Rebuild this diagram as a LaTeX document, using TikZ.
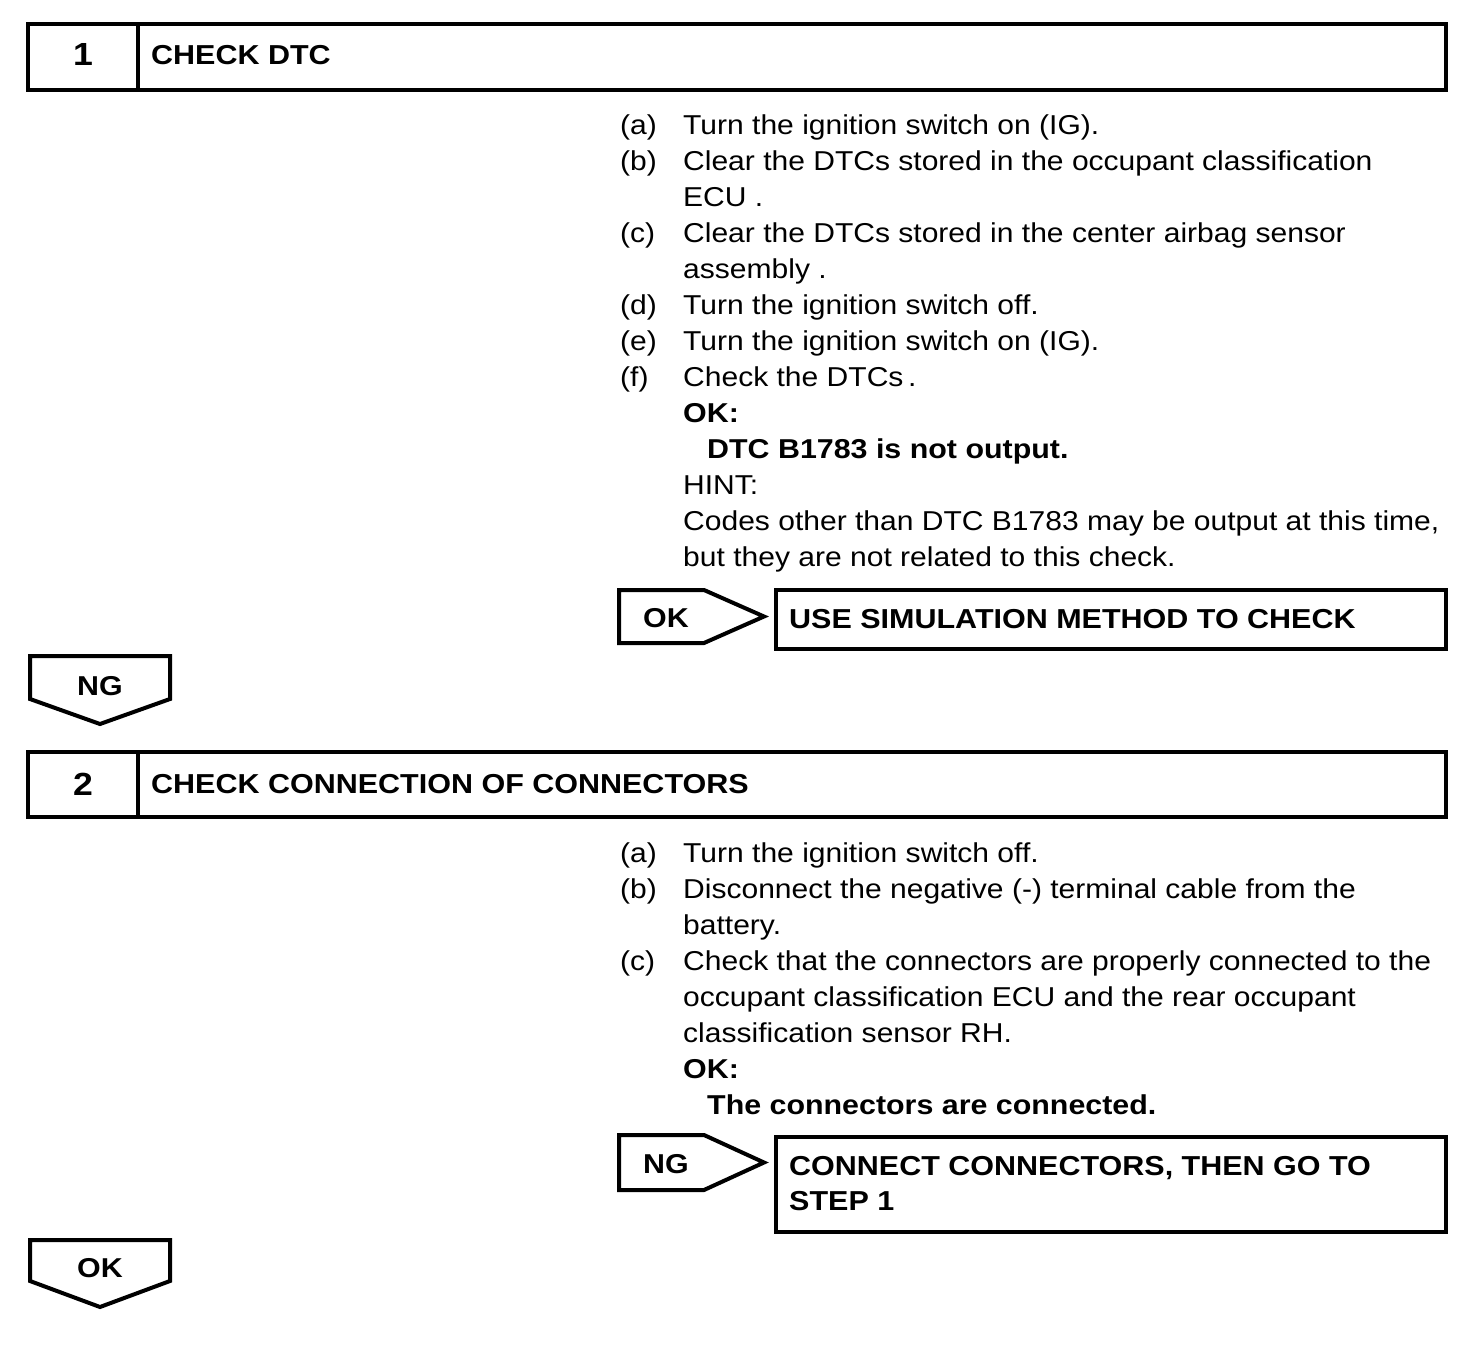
\documentclass[tikz,border=0pt]{standalone}
\usepackage{fontspec}
\setmainfont{Liberation Sans}[FakeStretch=1.1, BoldFeatures={FakeStretch=1.113}]
\usepackage{array}
\tikzset{
  frame/.style={draw=black, line width=4pt, line join=miter},
  numtext/.style={anchor=base, inner sep=0pt, font=\fontsize{32}{36}\selectfont\bfseries},
  headtext/.style={anchor=base west, inner sep=0pt, font=\fontsize{27.4}{35}\selectfont\bfseries},
  body/.style={anchor=base west, inner sep=0pt, font=\fontsize{27.3}{36}\selectfont},
  tagtext/.style={anchor=base, inner sep=0pt, font=\fontsize{27.3}{36}\selectfont\bfseries},
}
\begin{document}
\begin{tikzpicture}[x=1pt,y=-1pt]
\useasboundingbox (0,0) rectangle (1472,1356);
\fill[white] (0,0) rectangle (1472,1356);

% ---- Step 1 header
\draw[frame] (28,24) rectangle (1446,90);
\draw[frame] (138,24) -- (138,90);
\node[numtext] (num1) at (83,66) {1};
\node[headtext] (title1) at (151,65) {CHECK DTC};

% ---- Step 1 body
\node[body] (body1) at (620,135) {%
\begin{tabular}[t]{@{}p{63pt}@{}l@{}}
(a) & Turn the ignition switch on (IG).\\
(b) & Clear the DTCs stored in the occupant classification\\
    & ECU .\\
(c) & Clear the DTCs stored in the center airbag sensor\\
    & assembly .\\
(d) & Turn the ignition switch off.\\
(e) & Turn the ignition switch on (IG).\\
(f) & Check the DTCs\,.\\
    & \textbf{OK:}\\
    & \hspace{24pt}\textbf{DTC B1783 is not output.}\\
    & HINT:\\
    & Codes other than DTC B1783 may be output at this time,\\
    & but they are not related to this check.
\end{tabular}};

% ---- OK -> result
\draw[frame] (619,590) -- (704,590) -- (764,616.5) -- (704,643) -- (619,643) -- cycle;
\node[tagtext, anchor=base west] (ok1) at (643,627) {OK};
\draw[frame] (776,590) rectangle (1446,649);
\node[headtext] (res1) at (789,628) {USE SIMULATION METHOD TO CHECK};

% ---- NG down
\draw[frame] (30,656) -- (170,656) -- (170,699) -- (100,724) -- (30,699) -- cycle;
\node[tagtext] (ng1) at (100,695) {NG};

% ---- Step 2 header
\draw[frame] (28,752) rectangle (1446,817);
\draw[frame] (138,752) -- (138,817);
\node[numtext] (num2) at (83,795) {2};
\node[headtext] (title2) at (151,793) {CHECK CONNECTION OF CONNECTORS};

% ---- Step 2 body
\node[body] (body2) at (620,862) {%
\begin{tabular}[t]{@{}p{63pt}@{}l@{}}
(a) & Turn the ignition switch off.\\
(b) & Disconnect the negative (-) terminal cable from the\\
    & battery.\\
(c) & Check that the connectors are properly connected to the\\
    & occupant classification ECU and the rear occupant\\
    & classification sensor RH.\\
    & \textbf{OK:}\\
    & \hspace{24pt}\textbf{The connectors are connected.}
\end{tabular}};

% ---- NG -> result
\draw[frame] (619,1135) -- (704,1135) -- (764,1162.5) -- (704,1190) -- (619,1190) -- cycle;
\node[tagtext, anchor=base west] (ng2) at (643,1173) {NG};
\draw[frame] (776,1137) rectangle (1446,1232);
\node[headtext] (res2) at (789,1175) {%
\begin{tabular}[t]{@{}l@{}}
CONNECT CONNECTORS, THEN GO TO\\
STEP 1
\end{tabular}};

% ---- OK down
\draw[frame] (30,1240) -- (170,1240) -- (170,1281) -- (100,1307) -- (30,1281) -- cycle;
\node[tagtext] (ok2) at (100,1277) {OK};
\end{tikzpicture}
\end{document}
